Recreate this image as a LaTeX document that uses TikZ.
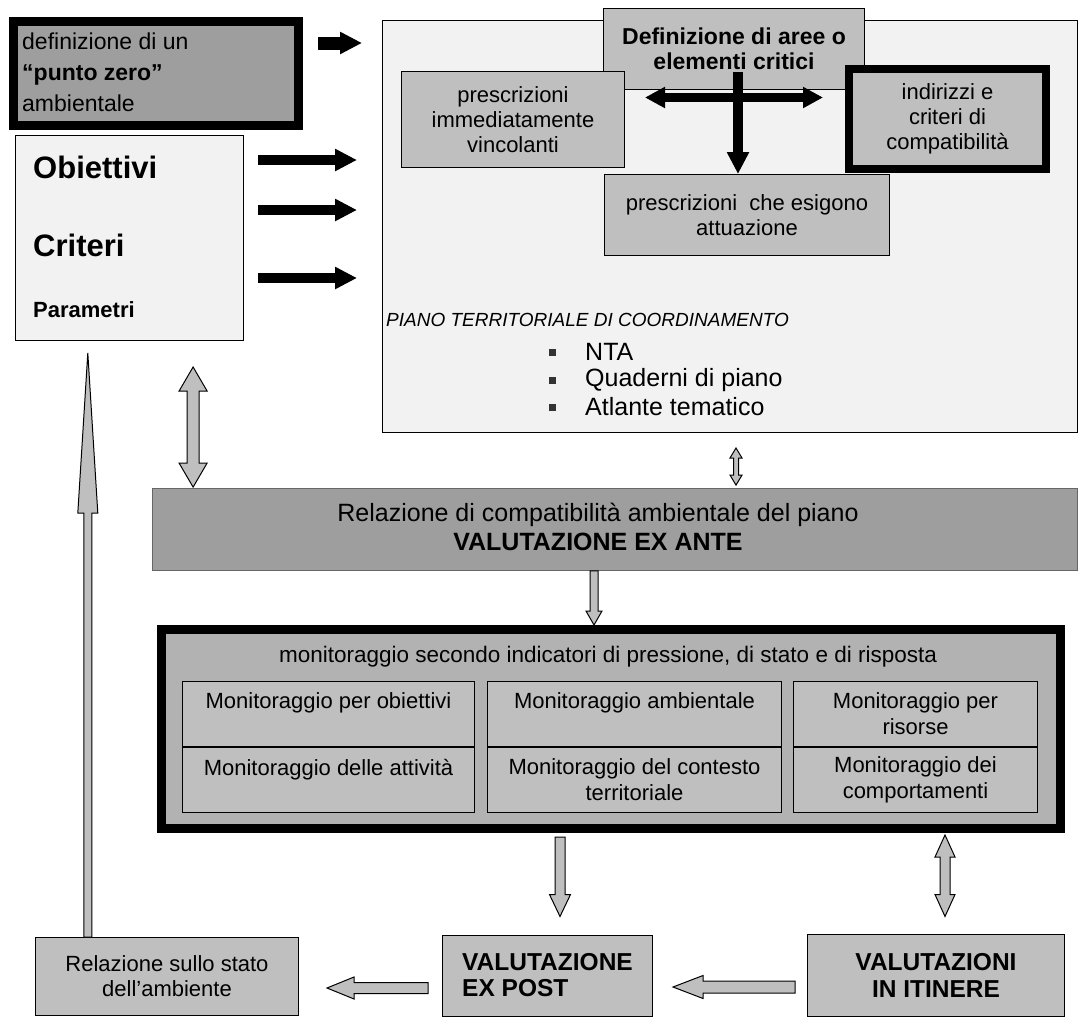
\documentclass[tikz,border=0pt]{standalone}
\usepackage{fontspec}
\setmainfont{Liberation Sans}
\usetikzlibrary{calc,arrows.meta}
\newcommand\SetSize[2]{\fontsize{#1}{#2}\selectfont}
% block arrow: from, to, half shaft, half head, head length
\newcommand\BlockArrow[5]{
  \coordinate (ba-c) at ($(#2)!#5!(#1)$);
  \draw[blockarrow] ($(#1)!#3!90:(#2)$) -- ($(ba-c)!#3!90:(#2)$) -- ($(ba-c)!#4!90:(#2)$) -- (#2)
    -- ($(ba-c)!#4!-90:(#2)$) -- ($(ba-c)!#3!-90:(#2)$) -- ($(#1)!#3!-90:(#2)$) -- cycle;
}
\newcommand\BlockDArrow[5]{
  \coordinate (ba-a) at ($(#1)!#5!(#2)$);
  \coordinate (ba-b) at ($(#2)!#5!(#1)$);
  \draw[blockarrow] (#1) -- ($(ba-a)!#4!90:(#2)$) -- ($(ba-a)!#3!90:(#2)$) -- ($(ba-b)!#3!-90:(#1)$)
    -- ($(ba-b)!#4!-90:(#1)$) -- (#2) -- ($(ba-b)!#4!90:(#1)$) -- ($(ba-b)!#3!90:(#1)$)
    -- ($(ba-a)!#3!-90:(#2)$) -- ($(ba-a)!#4!-90:(#2)$) -- cycle;
}

\begin{document}
\begin{tikzpicture}[x=1pt,y=-1pt,
  box/.style={draw,inner sep=0pt,line width=1pt,align=center},
  lightbox/.style={box,fill=black!25,font=\SetSize{22}{25}},
  cell/.style={lightbox,minimum height=65pt,font=\SetSize{22}{26}},
  txt/.style={inner sep=0pt,align=center},
  thickarrow/.style={line width=10pt,-{Triangle[length=22pt,width=21pt]}},
  thickdarrow/.style={line width=9pt,{Triangle[length=20pt,width=20pt]}-{Triangle[length=20pt,width=20pt]}},
  blockarrow/.style={draw,line width=1pt,fill=black!25,line join=miter},
  bullet/.style={fill=black!80,minimum size=7pt,inner sep=0pt}]
\useasboundingbox (0,0) rectangle (1080,1017);

% left column
\node[box,line width=9pt,fill=black!38,minimum width=285pt,minimum height=104pt] (zero) at (156,73.5) {};
\node[txt,anchor=west,align=left,font=\SetSize{23}{31}] (zerotext) at (22,72) {definizione di un\\\textbf{“punto zero”}\\ambientale};
\node[box,fill=black!5,minimum width=228pt,minimum height=205pt] (obj) at (129.5,238) {};
\node[txt,anchor=west,font=\SetSize{31}{31}\bfseries] (obiettivi) at (33,167) {Obiettivi};
\node[txt,anchor=west,font=\SetSize{31}{31}\bfseries] (criteri) at (33,245) {Criteri};
\node[txt,anchor=west,font=\SetSize{22}{22}\bfseries] (parametri) at (33,310) {Parametri};

% piano territoriale
\node[box,fill=black!5,minimum width=695pt,minimum height=412pt] (ptc) at (730,226.5) {};
\node[lightbox,minimum width=261pt,minimum height=81pt,font=\SetSize{23}{25.5}\bfseries] (crit) at (734,49) {Definizione di aree o\\elementi critici};
\node[lightbox,minimum width=223pt,minimum height=96pt] (pimm) at (513,119.5) {prescrizioni\\immediatamente\\vincolanti};
\node[lightbox,line width=8pt,minimum width=197pt,minimum height=100pt] (indir) at (947.5,119) {indirizzi e\\criteri di\\compatibilità};
\node[lightbox,minimum width=285pt,minimum height=81pt] (pesig) at (747,215) {prescrizioni\ \ che esigono\\attuazione};
\node[txt,anchor=west,font=\SetSize{19}{20}\itshape] (ptcname) at (386,320) {PIANO TERRITORIALE DI COORDINAMENTO};
\foreach \y/\t [count=\i] in {352/NTA,380/Quaderni di piano,407/Atlante tematico}{
  \node[bullet] (bul\i) at (552,\y) {};
  \node[txt,anchor=west,font=\SetSize{25}{28}] (item\i) at (585,\y) {\t};
}

% valutazione ex ante
\node[box,draw=black!60,line width=0.8pt,fill=black!38,minimum width=925pt,minimum height=82pt] (rel) at (615,529.5) {};
\node[txt,font=\SetSize{25}{29}] (reltext) at (598,527) {Relazione di compatibilità ambientale del piano\\\textbf{VALUTAZIONE EX ANTE}};

% monitoraggio
\node[box,line width=9pt,fill=black!30,minimum width=899pt,minimum height=199pt] (mon) at (611,729) {};
\node[txt,font=\SetSize{22.5}{25}] (monhead) at (608,657) {monitoraggio secondo indicatori di pressione, di stato e di risposta};
\node[cell,minimum width=292pt] (m11) at (328.5,714) {Monitoraggio per obiettivi\\\mbox{}};
\node[cell,minimum width=294pt] (m12) at (634.5,714) {Monitoraggio ambientale\\\mbox{}};
\node[cell,minimum width=244pt] (m13) at (915.5,714) {Monitoraggio per\\risorse};
\node[cell,minimum width=292pt] (m21) at (328.5,780) {Monitoraggio delle attività\\\mbox{}};
\node[cell,minimum width=294pt] (m22) at (634.5,780) {Monitoraggio del contesto\\territoriale};
\node[cell,minimum width=244pt] (m23) at (915.5,780) {Monitoraggio dei\\comportamenti};

% valutazioni
\node[lightbox,minimum width=263pt,minimum height=78pt] (stato) at (167,976.5) {Relazione sullo stato\\dell'ambiente};
\node[lightbox,align=left,minimum width=210pt,minimum height=81pt,font=\SetSize{24.5}{26}\bfseries] (expost) at (547.5,975.5) {VALUTAZIONE\\EX POST};
\node[lightbox,minimum width=257pt,minimum height=82pt,font=\SetSize{24.5}{27}\bfseries] (itinere) at (936,975) {VALUTAZIONI\\IN ITINERE};

% black arrows
\draw[thickarrow,line width=13pt,shorten <=15pt,shorten >=20pt] ($(zero.east)+(0,-30.5)$) -- ($(zero.east -| ptc.west)+(0,-30.5)$);
\foreach \dy in {-78,-28,40}
  \draw[thickarrow,shorten <=14pt,shorten >=25pt] ($(obj.east)+(0,\dy)$) -- ($(obj.east -| ptc.west)+(0,\dy)$);
\draw[thickdarrow,shorten <=20pt,shorten >=22pt] ($(pimm.east)+(0,-22)$) -- ($(pimm.east -| indir.west)+(0,-22)$);
\draw[thickarrow] ($(crit.south)+(4,-18)$) -- ($(crit.south |- pesig.north)+(4,0)$);

% grey block arrows
\coordinate (fb-bot) at ($(stato.north west)!0.2!(stato.north east)$);
\coordinate (fb-top) at ($(fb-bot |- obj.south)+(0,12)$);
\BlockArrow{fb-bot}{fb-top}{4pt}{10pt}{160pt}
\coordinate (d2-b) at ($(rel.north west)+(41,-1)$);
\coordinate (d2-a) at ($(d2-b |- obj.south)+(0,26)$);
\BlockDArrow{d2-a}{d2-b}{6pt}{14pt}{24pt}
\coordinate (d3-a) at ($(ptc.south)+(6,15)$);
\coordinate (d3-b) at ($(d3-a |- rel.north)+(0,-3)$);
\BlockDArrow{d3-a}{d3-b}{2.5pt}{6pt}{10pt}
\coordinate (d4-a) at ($(rel.south)+(-21,0)$);
\coordinate (d4-b) at (d4-a |- mon.north);
\BlockArrow{d4-a}{d4-b}{4pt}{8pt}{14pt}
\coordinate (d5-a) at ($(expost.north |- mon.south)+(12.5,4)$);
\coordinate (d5-b) at ($(d5-a |- expost.north)+(0,-18)$);
\BlockArrow{d5-a}{d5-b}{5pt}{10.5pt}{22pt}
\coordinate (d6-a) at ($(itinere.north |- mon.south)+(9,2)$);
\coordinate (d6-b) at ($(d6-a |- itinere.north)+(0,-17)$);
\BlockDArrow{d6-a}{d6-b}{5pt}{10pt}{22pt}
\coordinate (d7-a) at ($(itinere.west)+(-12,12)$);
\coordinate (d7-b) at ($(d7-a -| expost.east)+(20,0)$);
\BlockArrow{d7-a}{d7-b}{6pt}{11.5pt}{30pt}
\coordinate (d8-a) at ($(expost.west)+(-14,12.5)$);
\coordinate (d8-b) at ($(d8-a -| stato.east)+(28,0)$);
\BlockArrow{d8-a}{d8-b}{5.5pt}{11pt}{27pt}
\end{tikzpicture}
\end{document}
